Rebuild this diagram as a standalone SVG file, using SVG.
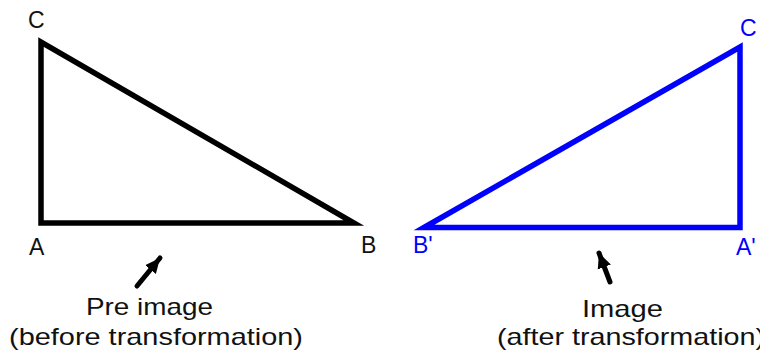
<svg xmlns="http://www.w3.org/2000/svg" width="760" height="352" viewBox="0 0 760 352">
  <defs>
    <style>
      .tri { fill: none; stroke-width: 5.5; stroke-linejoin: miter; }
      .pre { stroke: #000; }
      .img { stroke: #0000ff; }
      .lbl { font-family: "Liberation Sans", Arial, sans-serif; font-size: 23px; }
      .k { fill: #111; }
      .b { fill: #0000ff; }
      .cap { font-family: "Liberation Sans", Arial, sans-serif; font-size: 24px; fill: #111; }
      .arr { stroke: #000; stroke-width: 5; stroke-linecap: round; fill: none; }
    </style>
    <marker id="ah" markerUnits="userSpaceOnUse" markerWidth="16" markerHeight="16" viewBox="0 0 16 16" refX="15" refY="8" orient="auto">
      <path d="M0,1 L15,8 L0,15 Z" fill="#000"/>
    </marker>
  </defs>

  <g id="preimage">
    <polygon class="tri pre" points="41,42 41,223 354,223"/>
    <text class="lbl k" x="28" y="28">C</text>
    <text class="lbl k" x="29" y="255">A</text>
    <text class="lbl k" x="361" y="253">B</text>
  </g>

  <g id="image">
    <polygon class="tri img" points="424,227.5 740,47 740,227.5"/>
    <text class="lbl b" x="740" y="36">C</text>
    <text class="lbl b" x="413" y="253">B'</text>
    <text class="lbl b" x="736" y="255">A'</text>
  </g>

  <g id="label-pre">
    <text class="cap" x="86" y="315" textLength="127" lengthAdjust="spacingAndGlyphs">Pre image</text>
    <text class="cap" x="9" y="345" textLength="294" lengthAdjust="spacingAndGlyphs">(before transformation)</text>
  </g>

  <g id="label-img">
    <text class="cap" x="582" y="317" textLength="81" lengthAdjust="spacingAndGlyphs">Image</text>
    <text class="cap" x="497" y="345" textLength="268" lengthAdjust="spacingAndGlyphs">(after transformation)</text>
  </g>

  <g id="connectors">
    <line class="arr" x1="137" y1="286" x2="160" y2="258" marker-end="url(#ah)"/>
    <line class="arr" x1="610" y1="282" x2="599" y2="253" marker-end="url(#ah)"/>
  </g>
</svg>
